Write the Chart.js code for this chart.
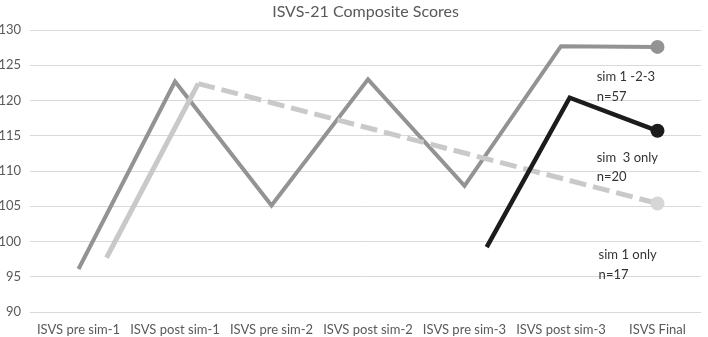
<!DOCTYPE html>
<html>
<head>
<meta charset="utf-8">
<script src="https://cdn.jsdelivr.net/npm/chart.js@4"></script>
<style>
  html, body { margin: 0; padding: 0; background: #ffffff; }
  canvas { display: block; }
</style>
</head>
<body>
<canvas id="chart" width="708" height="337"></canvas>
<script>
// Survey waves along the x axis
const categories = ['ISVS pre sim-1', 'ISVS post sim-1', 'ISVS pre sim-2', 'ISVS post sim-2',
                    'ISVS pre sim-3', 'ISVS post sim-3', 'ISVS Final'];

// Group that completed sims 1, 2 and 3
const sim123Wave = [0, 1, 2, 3, 4, 5, 6];
const sim123Scores = [96.1, 122.7, 105.1, 123.0, 107.9, 127.7, 127.6];

// Group that completed sim 1 only
const sim1OnlyWave = [0.29, 1.24, 6];
const sim1OnlyScores = [97.7, 122.4, 105.4];

// Group that completed sim 3 only
const sim3OnlyWave = [4.23, 5.09, 6];
const sim3OnlyScores = [99.2, 120.4, 115.7];

// Group captions placed beside the final wave
const groupCaptions = [
  { text: 'sim 1 -2-3', wave: 5.37, score: 123.3 },
  { text: 'n=57',       wave: 5.37, score: 120.5 },
  { text: 'sim  3 only', wave: 5.37, score: 111.9 },
  { text: 'n=20',       wave: 5.37, score: 109.2 },
  { text: 'sim 1 only', wave: 5.39, score: 98.1 },
  { text: 'n=17',       wave: 5.39, score: 95.3 }
];

const yTicks = [90, 95, 100, 105, 110, 115, 120, 125, 130];
const chartTitle = 'ISVS-21 Composite Scores';

const FONT = 'Lato, "Open Sans", sans-serif';

function toPoints(xs, ys) {
  return xs.map((x, i) => ({ x: x, y: ys[i] }));
}
function endMarker(n, r) {
  return Array.from({ length: n }, (_, i) => (i === n - 1 ? r : 0));
}

const titlePlugin = {
  id: 'centeredTitle',
  afterDraw(chart) {
    const { ctx, chartArea } = chart;
    ctx.save();
    ctx.font = '16px ' + FONT;
    ctx.fillStyle = '#595959';
    ctx.textAlign = 'center';
    ctx.textBaseline = 'middle';
    ctx.fillText(chartTitle, (chartArea.left + chartArea.right) / 2, 12);
    ctx.restore();
  }
};

const captionPlugin = {
  id: 'groupCaptions',
  afterDatasetsDraw(chart) {
    const { ctx, scales } = chart;
    ctx.save();
    ctx.font = '13px ' + FONT;
    ctx.fillStyle = '#333333';
    ctx.textAlign = 'left';
    ctx.textBaseline = 'middle';
    groupCaptions.forEach(c => {
      ctx.fillText(c.text, scales.x.getPixelForValue(c.wave), scales.y.getPixelForValue(c.score));
    });
    ctx.restore();
  }
};

new Chart(document.getElementById('chart'), {
  type: 'line',
  data: {
    datasets: [
      {
        label: 'sim 3 only',
        data: toPoints(sim3OnlyWave, sim3OnlyScores),
        borderColor: '#1c1c1c',
        backgroundColor: '#1c1c1c',
        borderWidth: 4.5,
        pointRadius: endMarker(sim3OnlyScores.length, 7),
        pointBorderWidth: 0,
        order: 1
      },
      {
        label: 'sim 1 only',
        data: toPoints(sim1OnlyWave, sim1OnlyScores),
        borderColor: '#c9c9c9',
        backgroundColor: '#d6d6d6',
        borderWidth: 5,
        borderCapStyle: 'butt',
        pointRadius: endMarker(sim1OnlyScores.length, 7),
        pointBorderWidth: 0,
        segment: {
          borderDash: ctx => (ctx.p0DataIndex >= 1 ? [17, 7] : undefined)
        },
        order: 2
      },
      {
        label: 'sim 1 -2-3',
        data: toPoints(sim123Wave, sim123Scores),
        borderColor: '#939393',
        backgroundColor: '#939393',
        borderWidth: 4,
        pointRadius: endMarker(sim123Scores.length, 7),
        pointBorderWidth: 0,
        order: 3
      }
    ]
  },
  options: {
    responsive: false,
    animation: false,
    layout: { padding: { top: 30, left: 0, right: 0, bottom: 0 } },
    plugins: {
      legend: { display: false },
      title: { display: false },
      tooltip: { enabled: false }
    },
    scales: {
      x: {
        type: 'linear',
        min: -0.503,
        max: 6.451,
        afterBuildTicks(scale) {
          scale.ticks = categories.map((_, i) => ({ value: i }));
        },
        afterFit(scale) { scale.height = 25; },
        grid: { display: false },
        border: { display: false },
        ticks: {
          autoSkip: false,
          maxRotation: 0,
          padding: 2,
          color: '#595959',
          font: { family: FONT, size: 13 },
          callback: v => categories[v]
        }
      },
      y: {
        min: 90,
        max: 130,
        afterBuildTicks(scale) {
          scale.ticks = yTicks.map(v => ({ value: v }));
        },
        afterFit(scale) { scale.width = 30; },
        grid: { color: '#d9d9d9', lineWidth: 1, drawTicks: false },
        border: { display: false },
        ticks: {
          padding: 9,
          color: '#595959',
          font: { family: FONT, size: 13 }
        }
      }
    }
  },
  plugins: [titlePlugin, captionPlugin]
});
</script>
</body>
</html>
